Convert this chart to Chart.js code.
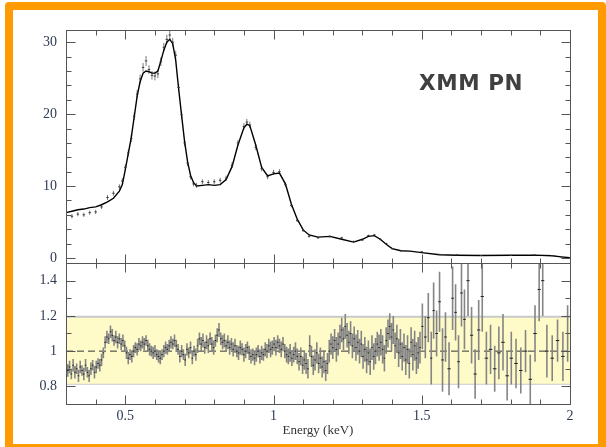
<!DOCTYPE html>
<html>
<head>
<meta charset="utf-8">
<script src="https://cdn.jsdelivr.net/npm/chart.js@4.4.0/dist/chart.umd.min.js"></script>
<style>
    html, body { margin: 0; padding: 0; background: #fff; }
    body { width: 606px; height: 447px; position: relative; overflow: hidden; }
    #frame { position: absolute; left: 5px; top: 2px; width: 601px; height: 450px; box-sizing: border-box;
             border: 8px solid #ff9a00; border-radius: 4px; }
    canvas { position: absolute; left: 0; }
    #spec-chart { top: 0; }
    #ratio-chart { top: 250px; }
    #label { position: absolute; left: 419px; top: 72px; font: bold 21.5px "DejaVu Sans", sans-serif;
             line-height: 1; color: #404040; letter-spacing: 0.6px; }
</style>
</head>
<body>
<div id="frame"></div>
<canvas id="spec-chart" width="606" height="270"></canvas>
<canvas id="ratio-chart" width="606" height="197"></canvas>
<div id="label">XMM PN</div>
<script>
// Espectro (painel de cima): energia, modelo, dados e erro
const specEnergy = [0.30,0.32,0.34,0.36,0.38,0.40,0.42,0.44,0.46,0.48,
    0.49,0.50,0.51,0.52,0.53,0.54,0.55,0.56,0.57,0.58,0.59,0.60,0.61,0.62,0.63,0.64,0.65,0.66,0.67,0.68,0.69,0.70,0.71,0.72,0.73,0.74,
    0.76,0.78,0.80,0.82,0.84,0.86,0.88,0.90,0.91,
    0.92,0.94,0.96,0.98,1.00,1.02,1.04,1.06,1.08,1.10,1.12,
    1.15,1.19,1.23,1.27,1.30,1.32,1.34,1.36,1.38,1.40,1.43,1.46,1.50,1.56,1.62,1.70,1.80,1.88,1.94,1.97,2.00];
const specModel = [6.3,6.5,6.7,6.8,7.0,7.1,7.4,7.8,8.3,9.3,
    10.2,12.3,14.5,16.7,19.6,22.5,24.5,25.7,26.0,25.9,25.7,25.7,26.0,27.4,28.9,30.0,30.4,29.8,27.5,23.5,19.8,16.2,13.4,11.5,10.5,10.0,
    10.1,10.2,10.1,10.2,10.9,12.7,15.7,18.1,18.6,
    18.4,15.7,12.6,11.4,11.7,11.8,10.3,7.5,5.4,3.9,3.2,
    2.9,3.0,2.6,2.2,2.6,3.0,3.1,2.6,1.9,1.3,1.0,0.95,0.75,0.45,0.38,0.35,0.38,0.4,0.3,0.15,0.02];
const specData = [5.9,5.8,6.1,6.0,6.3,6.4,7.1,8.4,9.0,9.9,
    10.7,12.6,14.6,16.6,19.7,22.8,24.9,26.5,27.4,26.2,25.4,25.3,25.6,27.3,29.3,30.4,31.0,30.0,28.2,23.7,19.9,16.0,13.2,11.3,10.3,10.1,
    10.6,10.5,10.6,10.8,11.1,12.9,16.0,18.3,18.9,
    18.5,15.4,12.4,11.3,11.9,12.0,10.2,7.3,5.2,3.8,3.0,
    2.8,3.0,2.8,2.3,2.5,3.1,3.2,2.6,2.0,1.3,1.0,0.9,0.85,0.5,0.42,0.35,0.36,0.42,0.32,0.15,0.03];
const specErr = [0.3,0.3,0.3,0.3,0.3,0.3,0.3,0.35,0.35,0.35,
    0.4,0.4,0.45,0.5,0.5,0.55,0.6,0.6,0.7,0.6,0.6,0.6,0.6,0.6,0.6,0.65,0.7,0.6,0.6,0.5,0.5,0.45,0.4,0.4,0.35,0.35,
    0.35,0.35,0.35,0.35,0.35,0.4,0.4,0.45,0.45,
    0.45,0.4,0.35,0.35,0.35,0.35,0.3,0.25,0.2,0.18,0.15,
    0.15,0.15,0.15,0.12,0.12,0.15,0.15,0.15,0.12,0.1,0.08,0.08,0.08,0.06,0.05,0.05,0.05,0.05,0.05,0.05,0.03];

// Razão dados/modelo (painel de baixo)
const ratioEnergy = [0.3,0.306,0.312,0.318,0.324,0.33,0.336,0.342,0.348,0.354,0.36,0.366,0.372,0.378,0.384,0.39,0.396,0.402,0.408,0.414,
    0.42,0.426,0.432,0.438,0.444,0.45,0.456,0.462,0.468,0.474,0.48,0.486,0.492,0.498,0.504,0.51,0.516,0.522,0.528,0.534,
    0.54,0.546,0.552,0.558,0.564,0.57,0.576,0.582,0.588,0.594,0.6,0.606,0.612,0.618,0.624,0.63,0.636,0.642,0.648,0.654,
    0.66,0.666,0.672,0.678,0.684,0.69,0.696,0.702,0.708,0.714,0.72,0.726,0.732,0.738,
    0.744,0.75,0.756,0.762,0.768,0.774,0.78,0.786,0.792,0.798,0.804,0.81,0.816,0.822,0.828,0.834,0.84,0.846,0.852,0.858,
    0.864,0.87,0.876,0.882,0.888,0.894,0.9,0.906,0.912,0.918,0.924,0.93,0.936,0.942,0.948,0.954,0.96,0.966,0.972,0.978,
    0.984,0.99,0.996,1.002,1.008,1.014,1.02,1.026,1.032,1.038,1.044,1.05,1.056,1.062,1.068,1.074,1.08,1.086,1.092,1.098,
    1.104,1.11,1.116,1.122,1.128,1.134,1.14,1.146,1.152,1.158,1.164,1.17,1.176,1.182,1.188,1.194,1.2,
    1.206,1.212,1.218,1.224,1.23,1.236,1.242,1.248,1.254,1.26,1.266,1.272,1.278,1.284,1.29,1.296,1.302,1.308,1.314,1.32,
    1.326,1.332,1.338,1.344,1.35,1.356,1.362,1.368,1.374,1.38,1.386,1.392,1.398,1.404,1.41,1.416,1.422,1.428,1.434,1.44,
    1.446,1.452,1.458,1.464,1.47,1.476,1.482,1.488,1.494,
    1.502,1.512,1.522,1.532,1.54,1.55,1.56,1.57,1.58,1.592,1.604,1.614,1.624,1.634,1.644,1.656,1.668,1.68,1.692,
    1.704,1.718,1.732,1.746,1.76,1.774,1.788,1.802,1.818,1.834,1.85,1.866,1.882,1.896,1.908,1.922,1.94,1.958,1.976,1.992];
const ratioValue = [0.95,0.89,0.91,0.87,0.92,0.88,0.90,0.86,0.91,0.89,0.87,0.92,0.88,0.86,0.90,0.92,0.88,0.91,0.93,0.92,
    0.95,0.99,1.05,1.08,1.07,1.11,1.09,1.06,1.08,1.05,1.07,1.04,1.06,1.03,0.99,0.96,0.98,0.97,1.00,1.02,
    1.01,1.04,1.03,1.05,1.04,1.06,1.03,1.01,1.00,0.99,1.00,0.98,0.97,0.96,0.98,1.00,1.02,1.01,1.03,1.05,
    1.04,1.06,1.03,1.01,0.97,1.00,0.98,0.95,1.01,0.99,1.02,0.96,1.00,0.98,
    1.03,1.07,1.04,1.06,1.02,1.05,1.03,1.07,1.04,1.02,1.06,1.09,1.12,1.07,1.05,1.06,1.03,1.05,1.02,1.04,
    1.01,1.03,1.00,0.99,1.02,1.01,0.98,1.00,1.02,0.99,0.97,0.98,0.96,0.98,1.00,0.97,0.99,0.98,1.01,1.00,
    1.03,1.01,1.02,1.04,1.02,1.05,1.03,1.01,1.04,1.00,0.98,0.97,0.99,0.96,0.98,1.00,0.97,0.94,0.97,0.92,
    0.95,0.93,0.90,1.03,0.97,0.92,0.95,0.99,0.93,0.96,0.91,0.94,0.89,0.93,1.00,1.04,1.02,
    1.06,1.01,1.04,1.08,1.12,1.07,1.14,1.09,1.05,1.10,1.03,1.07,1.02,1.05,1.00,1.04,0.97,1.01,0.95,0.99,
    0.94,1.02,0.97,1.00,1.04,1.02,1.05,1.01,0.96,1.06,1.10,1.14,1.08,1.12,1.03,1.07,0.99,1.04,0.97,1.02,
    0.95,1.01,0.93,1.05,0.98,1.03,0.96,0.99,1.02,
    1.14,1.08,1.19,0.96,1.23,1.10,1.28,0.95,1.08,0.90,1.30,1.22,0.94,1.33,1.18,1.40,1.09,0.87,1.12,
    1.31,0.96,1.01,0.90,0.99,1.05,0.86,0.96,0.93,0.89,1.00,0.84,1.10,1.35,1.40,1.00,0.96,1.06,0.97,1.10];
const ratioErr = [0.04,0.035,0.035,0.03,0.035,0.035,0.03,0.035,0.035,0.03,0.035,0.035,0.03,0.035,0.035,0.03,0.035,0.035,0.03,0.035,
    0.035,0.03,0.035,0.035,0.03,0.035,0.035,0.03,0.035,0.035,0.03,0.035,0.035,0.03,0.035,0.035,0.03,0.035,0.035,0.03,
    0.035,0.035,0.03,0.035,0.035,0.03,0.035,0.035,0.03,0.035,0.035,0.03,0.035,0.035,0.03,0.035,0.035,0.03,0.035,0.035,
    0.03,0.035,0.035,0.03,0.035,0.035,0.03,0.035,0.035,0.03,0.035,0.035,0.03,0.035,
    0.04,0.035,0.04,0.04,0.035,0.04,0.04,0.035,0.04,0.04,0.035,0.04,0.04,0.035,0.04,0.04,0.035,0.04,0.04,0.035,
    0.04,0.04,0.035,0.04,0.04,0.035,0.04,0.04,0.035,0.04,0.04,0.035,0.04,0.04,0.035,0.04,0.04,0.035,0.04,0.04,
    0.04,0.045,0.04,0.04,0.045,0.04,0.04,0.045,0.04,0.04,0.045,0.045,0.05,0.045,0.045,0.05,0.045,0.05,0.05,0.05,
    0.055,0.06,0.055,0.06,0.06,0.055,0.06,0.06,0.055,0.06,0.06,0.065,0.06,0.06,0.065,0.06,0.065,
    0.065,0.07,0.065,0.07,0.07,0.065,0.07,0.07,0.065,0.07,0.07,0.07,0.075,0.07,0.07,0.075,0.07,0.07,0.075,0.07,
    0.075,0.07,0.075,0.075,0.07,0.075,0.075,0.08,0.075,0.075,0.08,0.075,0.08,0.08,0.075,0.08,0.08,0.085,0.08,0.08,
    0.085,0.08,0.085,0.085,0.09,0.085,0.09,0.09,0.09,
    0.13,0.12,0.14,0.15,0.16,0.13,0.17,0.18,0.14,0.15,0.18,0.16,0.15,0.19,0.17,0.2,0.16,0.14,0.17,
    0.2,0.15,0.14,0.13,0.15,0.16,0.14,0.15,0.14,0.13,0.12,0.14,0.16,0.18,0.2,0.15,0.13,0.12,0.14,0.16];

// Faixa amarela e linha de referência
const bandLow = 0.815;
const bandHigh = 1.195;
const unity = 1;

// Rótulos dos eixos
const countTicks = [0, 10, 20, 30];
const ratioTicks = [0.8, 1, 1.2, 1.4];
const energyTicks = [0.5, 1, 1.5, 2];
const energyRange = [0.3, 2.0];

const tickFont = { family: '"Liberation Serif", "Times New Roman", serif', size: 14 };
const tickColor = '#2e3a52';

// Barras de erro verticais: segmentos separados por null
function errorBars(xs, ys, errs) {
    const out = [];
    xs.forEach((x, i) => {
        out.push({ x, y: ys[i] - errs[i] }, { x, y: ys[i] + errs[i] }, { x, y: null });
    });
    return out;
}

// Marcas horizontais (largura do bin)
function binMarks(xs, ys, maxHalf) {
    const out = [];
    xs.forEach((x, i) => {
        const gl = i > 0 ? x - xs[i - 1] : Infinity;
        const gr = i < xs.length - 1 ? xs[i + 1] - x : Infinity;
        const h = Math.min(gl * 0.45, gr * 0.45, maxHalf);
        out.push({ x: x - h, y: ys[i] }, { x: x + h, y: ys[i] }, { x, y: null });
    });
    return out;
}

function flatLine(y) {
    return [{ x: energyRange[0], y }, { x: energyRange[1], y }];
}

// Lista de marcas internas dos eixos
function tickMarks(min, max, step, majorEvery) {
    const out = [];
    for (let k = Math.ceil(min / step - 1e-6); k <= Math.floor(max / step + 1e-6); k++) {
        const v = k * step;
        if (Math.abs(v - min) < 1e-6 || Math.abs(v - max) < 1e-6) continue;
        out.push({ v, major: k % majorEvery === 0 });
    }
    return out;
}

// Moldura com marcas voltadas para dentro (estilo PGPLOT)
const frameTicks = {
    id: 'frameTicks',
    afterDatasetsDraw(chart, args, opts) {
        const { ctx, chartArea: a, scales } = chart;
        const L = Math.round(a.left) + 0.5, R = Math.round(a.right) + 0.5;
        const T = Math.round(a.top) + 0.5, B = Math.round(a.bottom) + 0.5;
        ctx.save();
        ctx.strokeStyle = '#555';
        ctx.lineWidth = 1;
        ctx.strokeRect(L, T, R - L, B - T);
        ctx.beginPath();
        tickMarks(scales.x.min, scales.x.max, opts.xStep, opts.xMajor).forEach(t => {
            const p = Math.round(scales.x.getPixelForValue(t.v)) + 0.5;
            const len = t.major ? 9 : 5;
            ctx.moveTo(p, T); ctx.lineTo(p, T + len);
            ctx.moveTo(p, B); ctx.lineTo(p, B - len);
        });
        tickMarks(scales.y.min, scales.y.max, opts.yStep, opts.yMajor).forEach(t => {
            const p = Math.round(scales.y.getPixelForValue(t.v)) + 0.5;
            const len = t.major ? 9 : 5;
            ctx.moveTo(L, p); ctx.lineTo(L + len, p);
            ctx.moveTo(R, p); ctx.lineTo(R - len, p);
        });
        ctx.stroke();
        ctx.restore();
    }
};

function fixedTicks(values) {
    return scale => { scale.ticks = values.map(v => ({ value: v })); };
}

// Sem folga extra dos rótulos: a área do gráfico fica onde a layout manda
function fixWidth(w) {
    return s => { s.width = w; s.paddingTop = 0; s.paddingBottom = 0; };
}
function fixHeight(h) {
    return s => { s.height = h; s.paddingLeft = 0; s.paddingRight = 0; };
}
const plainLabel = v => String(v);

// Painel de cima: espectro
new Chart(document.getElementById('spec-chart'), {
    type: 'line',
    data: {
        datasets: [
            {
                data: specEnergy.map((x, i) => ({ x, y: specModel[i] })),
                borderColor: '#000', borderWidth: 1.4, pointRadius: 0, order: 1
            },
            {
                data: errorBars(specEnergy, specData, specErr),
                borderColor: '#7a7a7a', borderWidth: 1, pointRadius: 0, spanGaps: false, order: 2
            },
            {
                data: binMarks(specEnergy, specData, 0.004),
                borderColor: '#333', borderWidth: 1, pointRadius: 0, spanGaps: false, order: 0
            }
        ]
    },
    options: {
        responsive: false,
        animation: false,
        layout: { padding: { left: 0, right: 36, top: 30, bottom: 7 } },
        plugins: {
            legend: { display: false },
            tooltip: { enabled: false },
            frameTicks: { xStep: 0.1, xMajor: 5, yStep: 2, yMajor: 5 }
        },
        scales: {
            x: { type: 'linear', min: energyRange[0], max: energyRange[1], display: false },
            y: {
                min: -0.7, max: 31.7,
                grid: { display: false, drawTicks: false },
                border: { display: false },
                afterBuildTicks: fixedTicks(countTicks),
                afterFit: fixWidth(66),
                ticks: { font: tickFont, color: tickColor, padding: 9, callback: plainLabel }
            }
        }
    },
    plugins: [frameTicks]
});

// Painel de baixo: razão
new Chart(document.getElementById('ratio-chart'), {
    type: 'line',
    data: {
        datasets: [
            {
                data: flatLine(bandHigh), fill: '+1', backgroundColor: '#fffbc9',
                borderColor: '#c9c9c9', borderWidth: 2, pointRadius: 0, order: 10
            },
            {
                data: flatLine(bandLow), fill: false,
                borderColor: '#c9c9c9', borderWidth: 2, pointRadius: 0, order: 11
            },
            {
                data: flatLine(unity), borderColor: '#333', borderWidth: 1,
                borderDash: [7, 4], pointRadius: 0, order: 5
            },
            {
                data: errorBars(ratioEnergy, ratioValue, ratioErr),
                borderColor: '#858585', borderWidth: 1.6, pointRadius: 0, spanGaps: false, order: 2
            },
            {
                data: binMarks(ratioEnergy, ratioValue, 0.006),
                borderColor: '#222', borderWidth: 1, pointRadius: 0, spanGaps: false, order: 1
            }
        ]
    },
    options: {
        responsive: false,
        animation: false,
        layout: { padding: { left: 0, right: 36, top: 13, bottom: 0 } },
        plugins: {
            legend: { display: false },
            tooltip: { enabled: false },
            frameTicks: { xStep: 0.1, xMajor: 5, yStep: 0.1, yMajor: 2 }
        },
        scales: {
            x: {
                type: 'linear', min: energyRange[0], max: energyRange[1],
                grid: { display: false, drawTicks: false },
                border: { display: false },
                afterBuildTicks: fixedTicks(energyTicks),
                afterFit: fixHeight(43),
                ticks: { font: tickFont, color: tickColor, padding: 4, maxRotation: 0, autoSkip: false, callback: plainLabel },
                title: {
                    display: true, text: 'Energy (keV)', color: '#333',
                    font: { family: tickFont.family, size: 13 },
                    padding: { top: 0, bottom: 9 }
                }
            },
            y: {
                min: 0.7, max: 1.5,
                grid: { display: false, drawTicks: false },
                border: { display: false },
                afterBuildTicks: fixedTicks(ratioTicks),
                afterFit: fixWidth(66),
                ticks: { font: tickFont, color: tickColor, padding: 9, callback: plainLabel }
            }
        }
    },
    plugins: [frameTicks]
});
</script>
</body>
</html>
